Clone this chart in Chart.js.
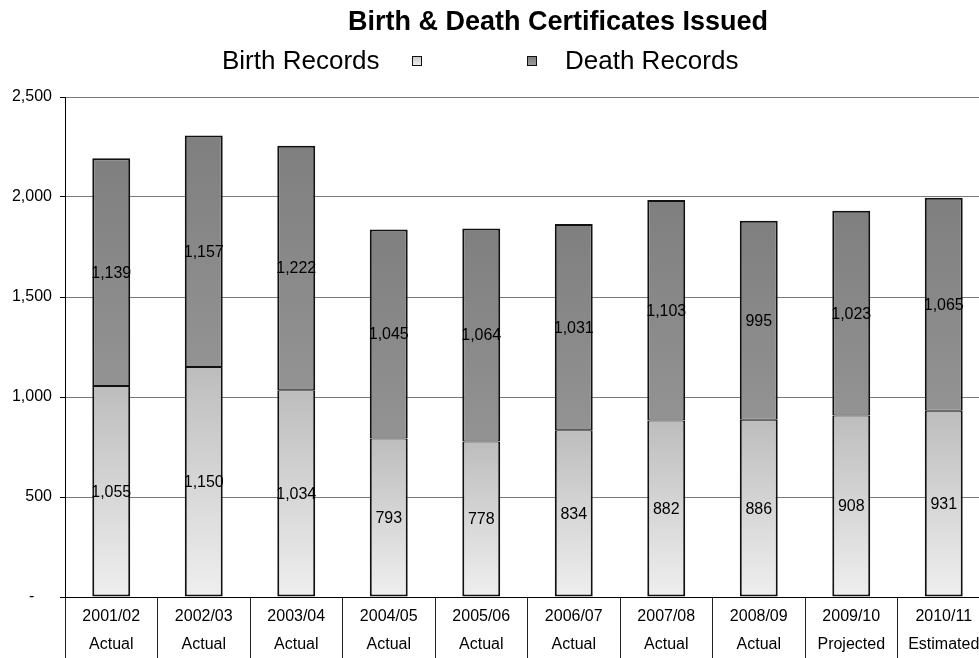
<!DOCTYPE html>
<html>
<head>
<meta charset="utf-8">
<title>Birth & Death Certificates Issued</title>
<script src="https://cdn.jsdelivr.net/npm/chart.js@4/dist/chart.umd.min.js"></script>
<style>
  html, body { margin: 0; padding: 0; overflow: hidden; background: #fff; }
  canvas { display: block; }
</style>
</head>
<body>
<canvas id="chart" width="1000" height="658"></canvas>
<script>
// Fiscal years and the status of each figure
const years = ['2001/02', '2002/03', '2003/04', '2004/05', '2005/06', '2006/07', '2007/08', '2008/09', '2009/10', '2010/11'];
const status = ['Actual', 'Actual', 'Actual', 'Actual', 'Actual', 'Actual', 'Actual', 'Actual', 'Projected', 'Estimated'];

// Certificates issued per year
const birthRecords = [1055, 1150, 1034, 793, 778, 834, 882, 886, 908, 931];
const deathRecords = [1139, 1157, 1222, 1045, 1064, 1031, 1103, 995, 1023, 1065];

// Value axis
const yTicks = [0, 500, 1000, 1500, 2000, 2500];

const FONT = '"Liberation Sans", Arial, Helvetica, sans-serif';
Chart.defaults.font.family = FONT;
Chart.defaults.color = '#000';

const fmt = v => v.toLocaleString('en-US');

// Vertical gradient spanning each stacked segment
function segmentGradient(ctx, topColor, bottomColor) {
  const chart = ctx.chart;
  if (ctx.type !== 'data' || !chart.chartArea || !chart.scales.y) return topColor;
  const i = ctx.dataIndex;
  const lo = ctx.datasetIndex === 0 ? 0 : birthRecords[i];
  const hi = lo + ctx.raw;
  const y = chart.scales.y;
  const top = y.getPixelForValue(hi);
  const bot = y.getPixelForValue(lo);
  if (!isFinite(top) || !isFinite(bot) || top === bot) return topColor;
  const g = chart.ctx.createLinearGradient(0, top, 0, bot);
  g.addColorStop(0, topColor);
  g.addColorStop(1, bottomColor);
  return g;
}

// Numbers written in the middle of every segment
const segmentLabels = {
  id: 'segmentLabels',
  afterDatasetsDraw(chart) {
    const c = chart.ctx;
    c.save();
    c.font = '16px ' + FONT;
    c.fillStyle = '#000';
    c.textAlign = 'center';
    c.textBaseline = 'middle';
    chart.data.datasets.forEach((ds, di) => {
      chart.getDatasetMeta(di).data.forEach((bar, i) => {
        c.fillText(fmt(ds.data[i]), bar.x, (bar.y + bar.base) / 2 + 1);
      });
    });
    c.restore();
  }
};

// Heading and legend line
const headingAndKey = {
  id: 'headingAndKey',
  afterDraw(chart) {
    const c = chart.ctx;
    const [birth, death] = chart.data.datasets;
    c.save();
    c.fillStyle = '#000';
    c.textBaseline = 'alphabetic';
    c.textAlign = 'center';
    c.font = 'bold 27px ' + FONT;
    c.fillText('Birth & Death Certificates Issued', 558, 30);

    c.font = '26px ' + FONT;
    c.textAlign = 'left';
    c.fillText(birth.label, 222, 69);
    c.fillText(death.label, 565, 69);

    const box = (x, y, top, bottom) => {
      const g = c.createLinearGradient(0, y, 0, y + 9);
      g.addColorStop(0, top);
      g.addColorStop(1, bottom);
      c.fillStyle = g;
      c.fillRect(x, y, 9, 9);
      c.strokeStyle = '#111';
      c.lineWidth = 1;
      c.strokeRect(x + 0.5, y + 0.5, 9, 9);
    };
    box(412, 56, '#c8c8c8', '#ececec');
    box(527, 56, '#7a7a7a', '#9a9a9a');
    c.restore();
  }
};

new Chart(document.getElementById('chart'), {
  type: 'bar',
  data: {
    labels: years.map((y, i) => [y, status[i]]),
    datasets: [
      {
        label: 'Birth Records',
        data: birthRecords,
        backgroundColor: ctx => segmentGradient(ctx, '#bdbdbd', '#efefef'),
        borderColor: '#111',
        borderWidth: { left: 2, right: 2, top: 1, bottom: 2 },
        borderSkipped: false,
        categoryPercentage: 1,
        barPercentage: 0.41
      },
      {
        label: 'Death Records',
        data: deathRecords,
        backgroundColor: ctx => segmentGradient(ctx, '#7f7f7f', '#939393'),
        borderColor: '#111',
        borderWidth: { left: 2, right: 2, top: 2, bottom: 1 },
        borderSkipped: false,
        categoryPercentage: 1,
        barPercentage: 0.41
      }
    ]
  },
  options: {
    responsive: false,
    animation: false,
    layout: { padding: { top: 97, right: 10, bottom: 0, left: 0 } },
    plugins: {
      legend: { display: false },
      title: { display: false },
      tooltip: { enabled: false }
    },
    scales: {
      x: {
        stacked: true,
        offset: true,
        grid: {
          offset: true,
          drawOnChartArea: false,
          drawTicks: true,
          tickLength: 70,
          color: '#222',
          lineWidth: 1
        },
        border: { color: '#000', width: 1 },
        ticks: {
          padding: -64,
          maxRotation: 0,
          autoSkip: false,
          color: '#000',
          font: { size: 16, lineHeight: 1.75 }
        },
        afterFit(scale) { scale.height = 61; }
      },
      y: {
        stacked: true,
        min: yTicks[0],
        max: yTicks[yTicks.length - 1],
        afterBuildTicks(scale) { scale.ticks = yTicks.map(v => ({ value: v })); },
        ticks: {
          padding: 8,
          color: '#000',
          font: { size: 16 },
          callback: v => (v === 0 ? '-    ' : fmt(v))
        },
        grid: {
          color: '#7a7a7a',
          lineWidth: 1,
          tickLength: 5,
          tickColor: '#000'
        },
        border: { color: '#000', width: 1 },
        afterFit(scale) { scale.width = 65; }
      }
    }
  },
  plugins: [segmentLabels, headingAndKey]
});
</script>
</body>
</html>
